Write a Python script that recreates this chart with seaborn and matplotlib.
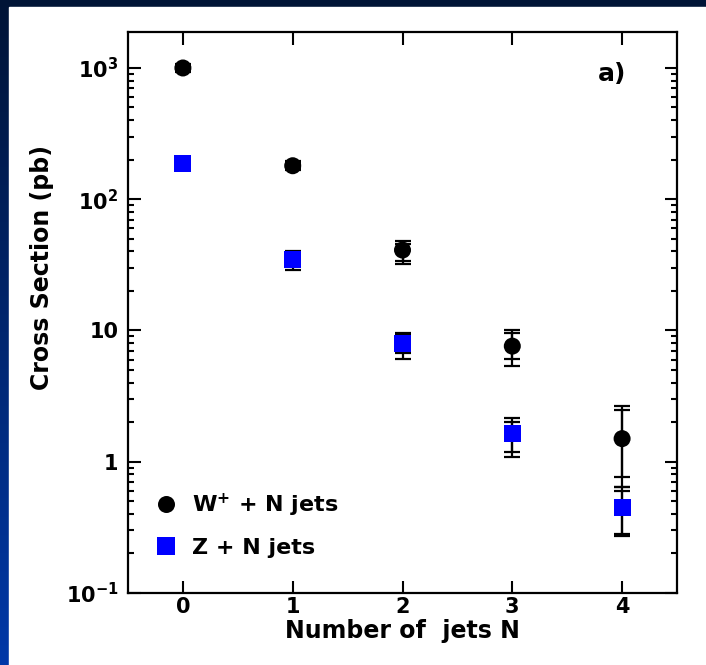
import numpy as np
import pandas as pd
import matplotlib
matplotlib.use("Agg")
import matplotlib.pyplot as plt
import seaborn as sns
from matplotlib.patches import Rectangle

# data
n_jets = [0, 1, 2, 3, 4]

w_xsec = [1000, 180, 41, 7.6, 1.5]
w_stat_lo = [960, 172, 34, 6.05, 0.76]
w_stat_hi = [1040, 188, 46, 9.5, 2.46]
w_tot_lo = [930, 166, 32, 5.4, 0.64]
w_tot_hi = [1080, 195, 48, 10.0, 2.68]

z_xsec = [187, 35, 8.0, 1.65, 0.45]
z_stat_lo = [178, 31, 6.7, 1.19, 0.28]
z_stat_hi = [196, 38, 9.2, 2.0, 0.60]
z_tot_lo = [172, 29, 6.1, 1.09, 0.27]
z_tot_hi = [204, 40, 9.5, 2.14, 0.64]

labels = ["W$^{\\mathbf{+}}$ + N jets", "Z + N jets"]
ytick_vals = [0.1, 1, 10, 100, 1000]
ytick_labels = ["$\\mathbf{10^{-1}}$", "1", "10", "$\\mathbf{10^{2}}$", "$\\mathbf{10^{3}}$"]

df = pd.DataFrame({
    "N": n_jets + n_jets,
    "xsec": w_xsec + z_xsec,
    "process": [labels[0]] * len(n_jets) + [labels[1]] * len(n_jets),
})

sns.set_theme(style="ticks")
plt.rcParams["font.family"] = ["DejaVu Sans"]
plt.rcParams["font.weight"] = "bold"
plt.rcParams["mathtext.default"] = "bf"
plt.rcParams["text.color"] = "black"
plt.rcParams["axes.labelcolor"] = "black"

fig = plt.figure(figsize=(7.06, 6.65), dpi=100)

# blue gradient background with white panel
bg = fig.add_axes([0, 0, 1, 1], zorder=-10)
grad = np.linspace(0, 1, 256).reshape(-1, 1)
cmap = matplotlib.colors.LinearSegmentedColormap.from_list("bg", ["#001436", "#0038a8"])
bg.imshow(grad, aspect="auto", cmap=cmap, extent=[0, 1, 0, 1], origin="upper")
bg.add_patch(Rectangle((9 / 706, 0), 1, 1 - 7 / 665, color="white", transform=bg.transAxes))
bg.set_xlim(0, 1)
bg.set_ylim(0, 1)
bg.axis("off")

ax = fig.add_axes([128 / 706, 1 - 593 / 665, 549 / 706, 561 / 665])
ax.set_facecolor("white")

# error bars: stat (inner) and total
for vals, slo, shi, tlo, thi in [
    (w_xsec, w_stat_lo, w_stat_hi, w_tot_lo, w_tot_hi),
    (z_xsec, z_stat_lo, z_stat_hi, z_tot_lo, z_tot_hi),
]:
    v = np.array(vals)
    for lo, hi in [(slo, shi), (tlo, thi)]:
        ax.errorbar(n_jets, v, yerr=[v - np.array(lo), np.array(hi) - v],
                    fmt="none", ecolor="black", elinewidth=1.6,
                    capsize=5.5, capthick=1.6, zorder=2)

sns.scatterplot(data=df, x="N", y="xsec", hue="process", style="process",
                markers={labels[0]: "o", labels[1]: "s"},
                palette={labels[0]: "black", labels[1]: "#0000ff"},
                s=150, linewidth=0, ax=ax, zorder=3)

ax.set_yscale("log")
ax.set_xlim(-0.5, 4.5)
ax.set_ylim(0.1, 1880)
ax.set_xticks(n_jets)
ax.set_xticklabels([str(n) for n in n_jets])
ax.set_yticks(ytick_vals)
ax.set_yticklabels(ytick_labels)

ax.tick_params(which="both", direction="in", top=True, right=True,
               width=1.5, colors="black", labelsize=15)
ax.tick_params(which="major", length=9)
ax.tick_params(which="minor", length=4.5)
ax.tick_params(axis="x", pad=3)
ax.tick_params(axis="y", pad=7)
ax.tick_params(axis="x", which="minor", top=False, bottom=False)
for sp in ax.spines.values():
    sp.set_linewidth(1.6)
    sp.set_color("black")

ax.set_xlabel("Number of  jets N", fontsize=17, fontweight="bold", labelpad=1)
ax.set_ylabel("Cross Section (pb)", fontsize=17, fontweight="bold")
ax.yaxis.set_label_coords(-0.135, 0.58)

ax.text(0.855, 0.925, "a)", transform=ax.transAxes, fontsize=18,
        fontweight="bold", ha="left", va="center")

handles, lbls = ax.get_legend_handles_labels()
ax.legend(handles, lbls, loc="lower left", bbox_to_anchor=(0.0, 0.035),
          frameon=False, fontsize=16, handletextpad=0.2, labelspacing=0.85,
          markerscale=1.0, borderaxespad=0.3)

fig.savefig("out.png", dpi=100)
